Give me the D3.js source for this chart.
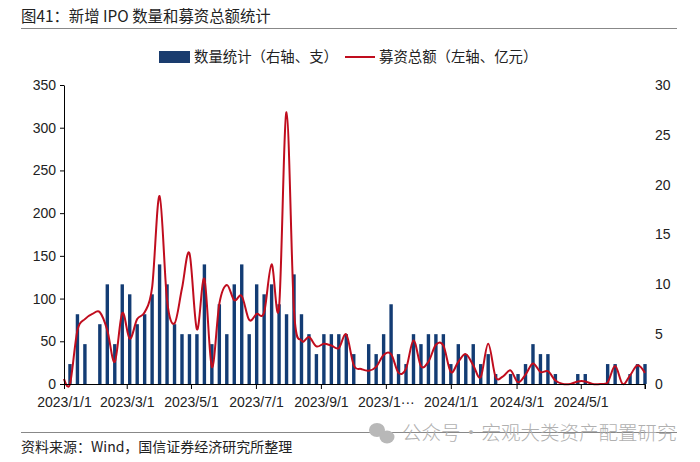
<!DOCTYPE html>
<html><head><meta charset="utf-8">
<script src="https://cdn.jsdelivr.net/npm/d3@7/dist/d3.min.js"></script>
<style>html,body{margin:0;padding:0;background:#fff}svg{display:block}</style></head>
<body><div id="c"></div>
<script>
const titleText = "图41：新增 IPO 数量和募资总额统计";
const sourceText = "资料来源：Wind，国信证券经济研究所整理";
const watermarkText = "公众号 · 宏观大类资产配置研究";
const barName = "数量统计（右轴、支）";
const lineName = "募资总额（左轴、亿元）";
const tickLabels = ["2023/1/1","2023/3/1","2023/5/1","2023/7/1","2023/9/1","2023/1···","2024/1/1","2024/3/1","2024/5/1"];
const tickPositions = [-0.8,7.6,16.2,24.9,33.6,42.3,51,59.8,68.4];
const leftTicks = [0,50,100,150,200,250,300,350];
const rightTicks = [0,5,10,15,20,25,30];
const barValues = [2,7,4,0,6,10,4,10,9,6,7,9,12,10,6,5,5,5,12,4,8,5,10,12,5,10,9,10,8,7,11,7,5,3,5,5,5,5,3,0,4,3,5,8,3,2,5,4,5,5,5,2,4,3,4,2,3,1,0,1,1,2,4,3,3,1,0,0,1,1,0,0,2,2,0,1,2,2];
const lineStart = [-0.8,6];
const lineValues = [0,63,76,82,84,63,26,83,53,76,84,113,220,98,71,112,153,64,123,20,94,116,98,103,75,82,84,140,90,318,86,51,55,44,47,45,42,58,22,17.5,15.5,20,34,35,13,18,51,21,26,46,45,14,26,35,22,8,47,8,9,16,2,11,24,14,15,4,0,0,3,3,0,0,2,21,0,10,22,13];

const W=700,H=462;
const svg=d3.select("#c").append("svg").attr("width",W).attr("height",H);
const cjk="'Noto Sans CJK SC','Noto Sans',sans-serif", lat="'Liberation Sans',Arial,sans-serif";
const x=d3.scaleLinear().domain([-0.8,77]).range([64,645]);
const yL=d3.scaleLinear().domain([0,350]).range([384,85]);
const yR=d3.scaleLinear().domain([0,30]).range([384,85]);

svg.append("text").text(titleText).attr("x",21).attr("y",22).attr("font-family",cjk).attr("font-size",15.4).attr("fill","#222");
svg.append("line").attr("x1",21).attr("x2",677).attr("y1",28.5).attr("y2",28.5).attr("stroke","#888").attr("stroke-width",1);

// legend
svg.append("rect").attr("x",159).attr("y",51).attr("width",31).attr("height",12).attr("fill","#1a3c6e");
svg.append("text").text(barName).attr("x",194).attr("y",62).attr("font-family",cjk).attr("font-size",14.4).attr("fill","#222");
svg.append("line").attr("x1",345).attr("x2",375).attr("y1",57).attr("y2",57).attr("stroke","#c00d1e").attr("stroke-width",2);
svg.append("text").text(lineName).attr("x",379).attr("y",62).attr("font-family",cjk).attr("font-size",14.4).attr("fill","#222");

// bars
svg.append("g").selectAll("rect").data(barValues).join("rect")
  .attr("x",(d,i)=>x(i)-1.7).attr("width",3.4)
  .attr("y",d=>yR(d)).attr("height",d=>yR(0)-yR(d)).attr("fill","#133c74");

// line
const pts=[lineStart].concat(lineValues.map((v,i)=>[i,v]));
svg.append("path").attr("d",d3.line().x(d=>x(d[0])).y(d=>Math.min(yL(d[1]),384)).curve(d3.curveCatmullRom.alpha(0))(pts))
  .attr("fill","none").attr("stroke","#c00d1e").attr("stroke-width",2).attr("stroke-linejoin","round");

// axes
function style(g){g.selectAll("text").attr("font-family",lat).attr("font-size",14).attr("fill","#222");g.selectAll("path,line").attr("stroke","#000").attr("stroke-width",1);}
svg.append("g").attr("transform","translate(64,0)").call(d3.axisLeft(yL).tickValues(leftTicks).tickSize(4).tickPadding(4).tickSizeOuter(0)).call(style);
svg.append("g").attr("transform","translate(645,0)").call(d3.axisRight(yR).tickValues(rightTicks).tickSize(0).tickPadding(10).tickSizeOuter(0)).call(style).call(g=>g.select(".domain").remove());
const xAxis=d3.axisBottom(x).tickValues(tickPositions).tickFormat((d,i)=>tickLabels[i]).tickSize(5).tickPadding(8).tickSizeOuter(5);
svg.append("g").attr("transform","translate(0,384)").call(xAxis).call(style);
svg.append("line").attr("x1",645).attr("x2",645).attr("y1",384).attr("y2",389).attr("stroke","#000");

// footer
svg.append("line").attr("x1",21).attr("x2",677).attr("y1",432.5).attr("y2",432.5).attr("stroke","#888");
svg.append("text").text(sourceText).attr("x",21).attr("y",452).attr("font-family",cjk).attr("font-size",14).attr("fill","#222");

// watermark
const wm=svg.append("g").attr("fill","#b8b8b8");
wm.append("ellipse").attr("cx",377).attr("cy",430).attr("rx",8).attr("ry",7);
wm.append("ellipse").attr("cx",387).attr("cy",437).attr("rx",7.5).attr("ry",6.5);
svg.append("text").text(watermarkText).attr("x",402).attr("y",440).attr("font-family",cjk).attr("font-weight",300).attr("font-size",19.5).attr("word-spacing",-3.5).attr("fill","#b0b0b0");
</script></body></html>
